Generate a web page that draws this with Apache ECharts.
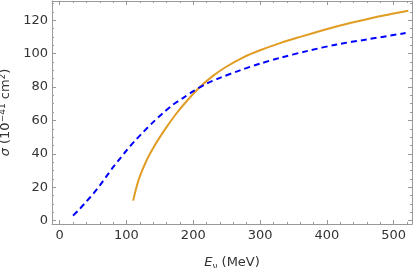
<!DOCTYPE html>
<html>
<head>
<meta charset="utf-8">
<script src="https://cdn.jsdelivr.net/npm/echarts@6/dist/echarts.min.js"></script>
<style>
  html, body { margin: 0; padding: 0; background: #fff; }
  #chart { width: 415px; height: 268px; }
</style>
</head>
<body>
<div id="chart"></div>
<script>
// 数据：近似值
var blueX = [20, 30, 40, 50, 60, 70, 80, 90, 100, 112, 125, 140, 155, 170, 185, 200, 220, 240, 270, 300, 330, 370, 415, 460, 518];
var blueY = [3, 7, 11.5, 16, 21, 26.5, 32, 37, 42, 47.5, 53, 59, 64.5, 69.5, 73.5, 77.5, 82, 85.5, 90, 94, 97.5, 101.5, 105.5, 108.5, 112.3];

var orangeX = [110, 115, 120, 130, 140, 150, 160, 175, 190, 210, 230, 250, 275, 300, 330, 360, 390, 420, 450, 485, 522];
var orangeY = [12, 20, 26.5, 36, 43.5, 50, 56, 64.3, 71.5, 80, 86.8, 92.3, 97.8, 102, 106.3, 110, 113.5, 116.8, 119.7, 122.8, 125.7];

function pairs(xs, ys) {
    return xs.map(function (x, i) { return [x, ys[i]]; });
}

var font = 'DejaVu Sans';
var frameColor = '#999';

// 四条边都画轴线，刻度朝内
function frameAxis(extra) {
    var base = {
        type: 'value',
        axisLine: { show: true, onZero: false, lineStyle: { color: frameColor, width: 1 } },
        axisTick: { show: true, inside: true, length: 4, lineStyle: { color: frameColor, width: 1 } },
        minorTick: { show: true, length: 2, lineStyle: { color: frameColor, width: 1 } },
        splitLine: { show: false }
    };
    return echarts.util.merge(base, extra, true);
}

var myChart = echarts.init(document.getElementById('chart'));

myChart.setOption({
    animation: false,
    textStyle: { fontFamily: font },
    grid: { left: 52, right: 3, top: 1, bottom: 44, outerBoundsMode: 'none', containLabel: false },
    xAxis: [
        frameAxis({
            min: -11.5, max: 527.5, splitNumber: 5, position: 'bottom',
            name: '{i|E}{s|ν} (MeV)',
            nameLocation: 'middle',
            nameGap: 30,
            nameTextStyle: {
                color: '#333',
                fontSize: 13,
                rich: {
                    i: { fontStyle: 'italic', fontSize: 13, color: '#333', fontFamily: font },
                    s: { fontSize: 9, color: '#333', verticalAlign: 'bottom', padding: [8, 0, 0, 0], fontFamily: font }
                }
            },
            minorTick: { splitNumber: 5 },
            axisLabel: {
                color: '#333', fontSize: 13, margin: 5,
                formatter: function (v) { return v % 100 === 0 ? String(v) : ''; }
            }
        }),
        frameAxis({
            min: -11.5, max: 527.5, splitNumber: 5, position: 'top',
            minorTick: { splitNumber: 5 },
            axisLabel: { show: false }
        })
    ],
    yAxis: [
        frameAxis({
            min: -2, max: 131.5, splitNumber: 7, position: 'left',
            name: '{i|σ} (10{u|−41} cm{u|2})',
            nameLocation: 'middle',
            nameGap: 23,
            nameTextStyle: {
                color: '#333',
                fontSize: 13,
                rich: {
                    i: { fontStyle: 'italic', fontSize: 13, color: '#333', fontFamily: font },
                    u: { fontSize: 9, color: '#333', verticalAlign: 'top', padding: [0, 0, 6, 0], fontFamily: font }
                }
            },
            minorTick: { splitNumber: 4 },
            axisLabel: {
                color: '#333', fontSize: 13, margin: 4,
                formatter: function (v) { return v % 20 === 0 ? String(v) : ''; }
            }
        }),
        frameAxis({
            min: -2, max: 131.5, splitNumber: 7, position: 'right',
            minorTick: { splitNumber: 4 },
            axisLabel: { show: false }
        })
    ],
    series: [
        {
            type: 'line',
            data: pairs(orangeX, orangeY),
            smooth: 0.3,
            showSymbol: false,
            lineStyle: { color: '#e19c24', width: 2 }
        },
        {
            type: 'line',
            data: pairs(blueX, blueY),
            smooth: 0.3,
            showSymbol: false,
            lineStyle: { color: '#0000ff', width: 2, type: [6, 4] }
        }
    ]
});
</script>
</body>
</html>
